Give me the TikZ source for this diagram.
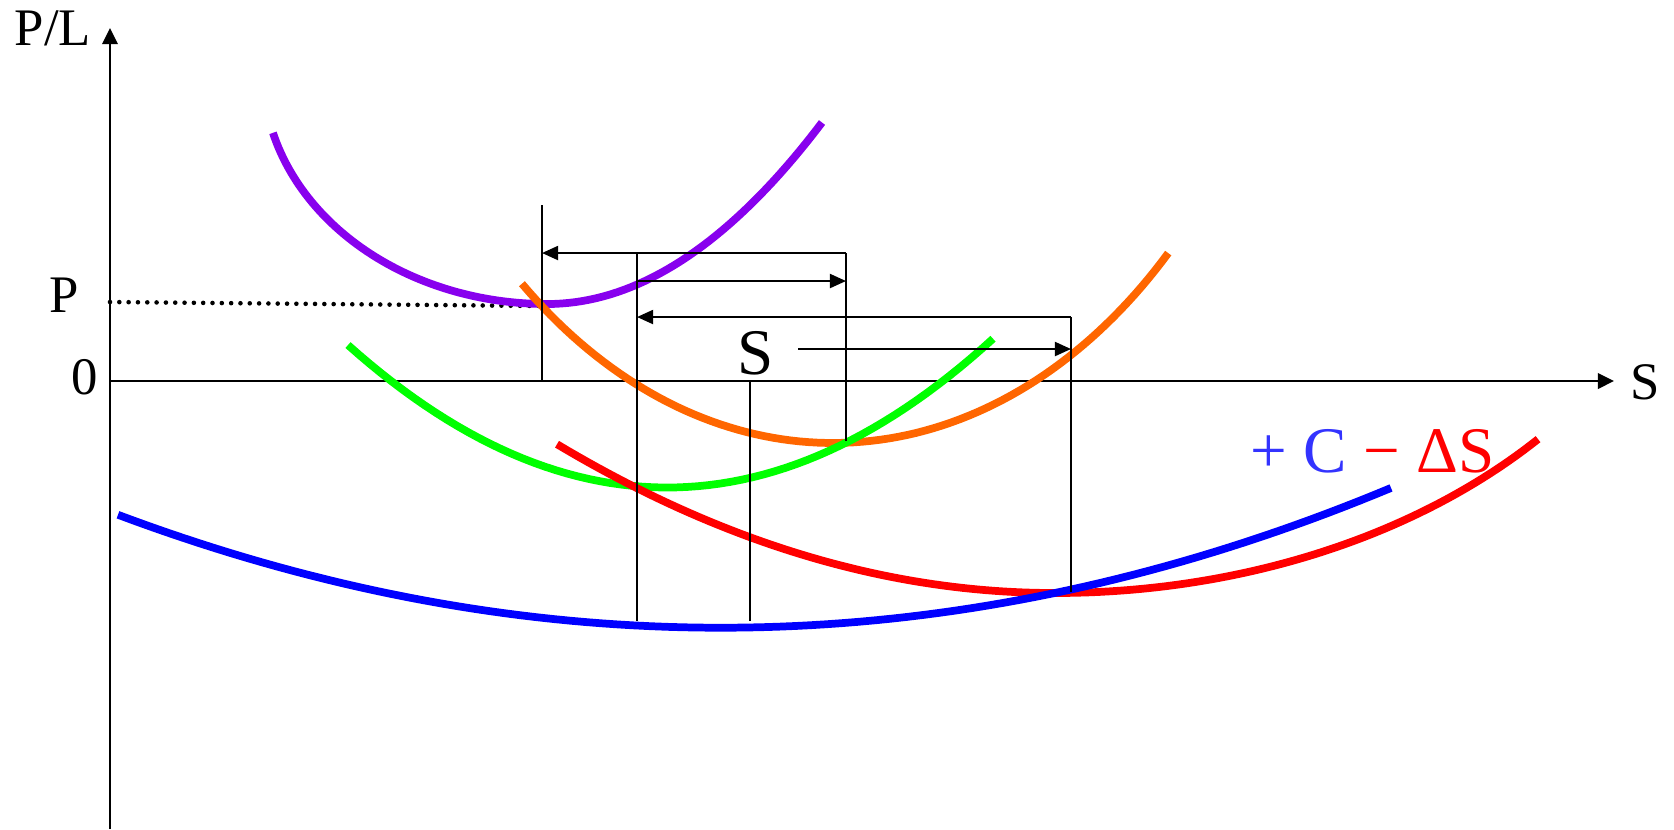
\documentclass[tikz,border=0pt]{standalone}
\usepackage{fontspec}
\setmainfont{Liberation Serif}
\usetikzlibrary{arrows.meta,positioning}
\definecolor{cpurple}{HTML}{8800EE}
\definecolor{corange}{HTML}{FF6600}
\definecolor{cgreen}{HTML}{00FF00}
\definecolor{cred}{HTML}{FF0000}
\definecolor{cblue}{HTML}{0000FF}
\definecolor{lblue}{HTML}{3333FF}

\begin{document}
\begin{tikzpicture}[x=0.01cm, y=-0.01cm,
    axis/.style={line width=0.65pt, -{Triangle[length=4.6pt,width=4.4pt]}},
    guide/.style={line width=0.6pt},
    shiftarrow/.style={line width=0.6pt, -{Triangle[length=4.6pt,width=4pt]}},
    curve/.style={line width=2.2pt},
    lbl/.style={font=\fontsize{15}{18}\selectfont, inner sep=0pt, anchor=base west},
    biglbl/.style={font=\fontsize{18.5}{22}\selectfont, inner sep=0pt, anchor=base west}]

  \useasboundingbox (0,0) rectangle (1674,829);

  % Axes
  \coordinate (O) at (110,381);
  \coordinate (Ytop) at (110,28);
  \coordinate (Ybot) at (110,829);
  \coordinate (Xend) at (1614,381);
  \draw[axis] (Ybot) -- (Ytop);
  \draw[axis] (O) -- (Xend);
  \node[lbl] (PL) at (14,45) {P/L};
  \node[lbl] (Sx) at (1630,399) {S};
  \node[lbl] (zero) at (71,394) {0};
  \node[lbl] (Plbl) at (49,312) {P};

  % Price level
  \coordinate (Pstart) at (110,302);
  \coordinate (Pcross) at (542,306);
  \draw[line width=1.3pt, line cap=round, dash pattern=on 0pt off 2.65pt] (Pstart) -- (Pcross);

  % Curves
  \draw[curve, cpurple] plot[domain=-74.8:0, samples=60] ({547 + 284*sin(\x)}, {72 + 232*cos(\x)})
     -- plot[domain=547:822, samples=40] (\x, {304 - 24*((\x-547)/100)^2});
  \draw[curve, corange] plot[domain=-40.4:44.3, samples=80] ({833 + 480*sin(\x)}, {-225 + 668*cos(\x)});
  \draw[curve, cgreen] plot[domain=348:993, samples=60] (\x, {487.5 - 14.0*((\x-667)/100)^2});
  \draw[curve, cred] plot[domain=557:1055, samples=50] (\x, {593 - 6.0*((\x-1055)/100)^2})
     -- plot[domain=0:48, samples=50] ({1055 + 650*sin(\x)}, {128 + 465*cos(\x)});
  \draw[curve, cblue] plot[domain=118:1391, samples=80] (\x, {627.7 - 3.11*((\x-720.6)/100)^2});

  % Guide lines
  \coordinate (A1) at (542,205);
  \coordinate (A0) at (542,381);
  \coordinate (B1) at (637,253);
  \coordinate (B0) at (637,621);
  \coordinate (C1) at (846,253);
  \coordinate (C0) at (846,441);
  \coordinate (D1) at (1071,317);
  \coordinate (D0) at (1071,592);
  \coordinate (E1) at (750,381);
  \coordinate (E0) at (750,621);
  \draw[guide] (A1) -- (A0);
  \draw[guide] (B1) -- (B0);
  \draw[guide] (C1) -- (C0);
  \draw[guide] (D1) -- (D0);
  \draw[guide] (E1) -- (E0);

  % Shifts
  \coordinate (A2) at (542,253);
  \coordinate (B2) at (637,281);
  \coordinate (C2) at (846,281);
  \coordinate (B3) at (637,317);
  \coordinate (S1) at (798,349);
  \coordinate (D2) at (1071,349);
  \draw[shiftarrow] (C1) -- (A2);
  \draw[shiftarrow] (B2) -- (C2);
  \draw[shiftarrow] (D1) -- (B3);
  \draw[shiftarrow] (S1) -- (D2);
  \node[biglbl] (Smid) at (737,374) {S};

  % Legend
  \node[biglbl] (legend) at (1250,472) {\textcolor{lblue}{+ C} \textcolor{cred}{− ΔS}};
\end{tikzpicture}
\end{document}
